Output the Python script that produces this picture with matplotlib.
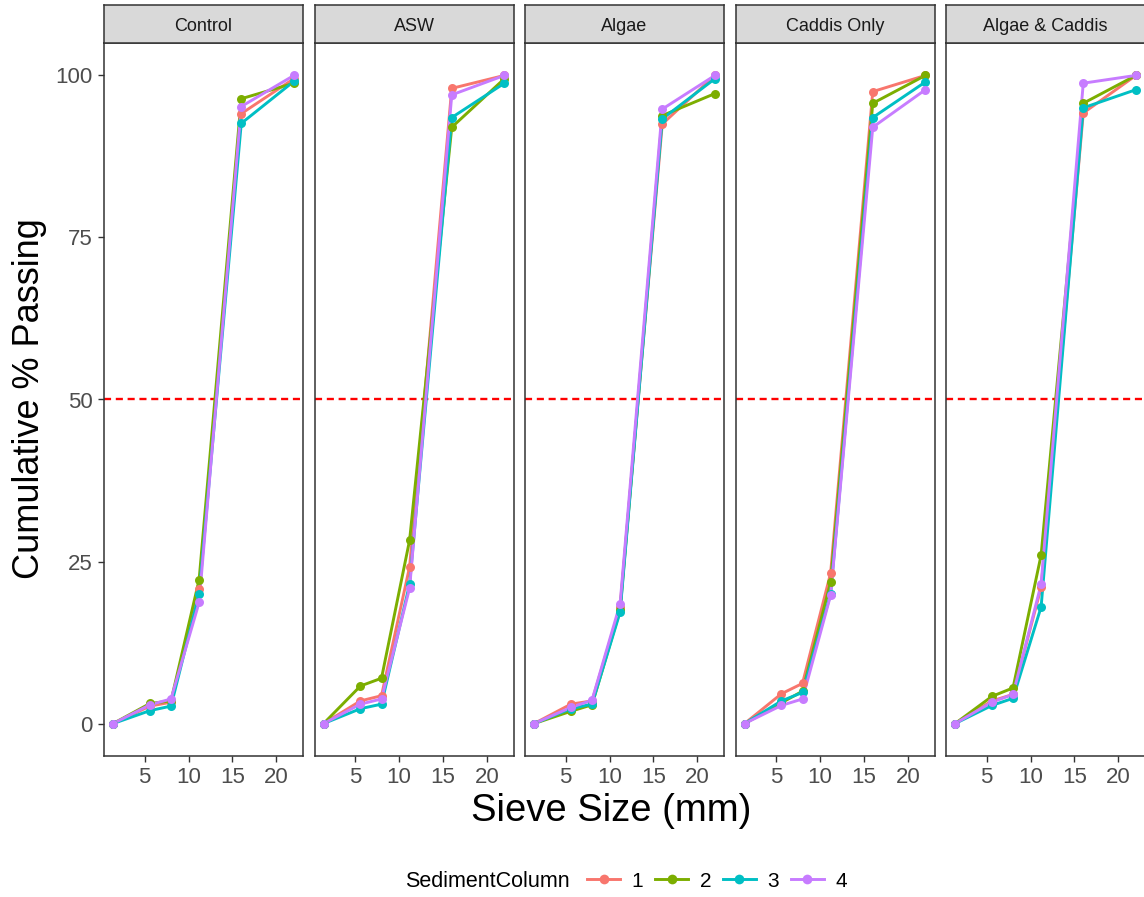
import matplotlib
matplotlib.use("Agg")
import matplotlib.pyplot as plt
from matplotlib.lines import Line2D

plt.rcParams['font.family'] = ['Liberation Sans', 'DejaVu Sans']

sieve = [1.4, 5.6, 8, 11.2, 16, 22]
treatments = ["Control", "ASW", "Algae", "Caddis Only", "Algae & Caddis"]
columns = ["1", "2", "3", "4"]
colors = ["#F8766D", "#7CAE00", "#00BFC4", "#C77CFF"]

# cumulative % passing, one row per sediment column (1..4)
control = [[0, 2.7, 3.3, 20.8, 94.1, 99.5],
           [0, 3.1, 3.5, 22.2, 96.4, 98.8],
           [0, 2.0, 2.7, 20.0, 92.6, 99.1],
           [0, 2.9, 3.8, 18.7, 95.2, 100]]
asw = [[0, 3.5, 4.3, 24.2, 98.0, 100],
       [0, 5.8, 7.0, 28.3, 92.0, 99.5],
       [0, 2.3, 3.0, 21.5, 93.5, 98.8],
       [0, 3.0, 3.8, 20.9, 97.0, 100]]
algae = [[0, 3.0, 3.5, 18.0, 92.5, 100],
         [0, 1.9, 2.9, 17.5, 93.8, 97.2],
         [0, 2.3, 3.0, 17.2, 93.3, 99.5],
         [0, 2.5, 3.6, 18.5, 94.8, 100]]
caddis = [[0, 4.6, 6.2, 23.2, 97.5, 100],
          [0, 3.2, 5.0, 21.8, 95.7, 100],
          [0, 3.5, 4.8, 20.0, 93.5, 99.0],
          [0, 2.8, 3.8, 19.8, 92.0, 97.8]]
algae_caddis = [[0, 3.5, 4.5, 21.0, 94.2, 100],
                [0, 4.2, 5.5, 26.0, 95.7, 100],
                [0, 2.8, 3.9, 18.0, 95.0, 97.8],
                [0, 3.3, 4.5, 21.5, 98.8, 100]]
panels = [control, asw, algae, caddis, algae_caddis]

W, H = 1144, 897
fig = plt.figure(figsize=(W / 100, H / 100), dpi=100)

dark = "#333333"
grey = "#4D4D4D"
xr = max(sieve) - min(sieve)
for i, (name, data) in enumerate(zip(treatments, panels)):
    left = 104 + i * 210.5
    ax = fig.add_axes([left / W, 1 - 756 / H, 199 / W, 713 / H])
    ax.axhline(50, color="red", ls=(0, (3, 2)), lw=1.7, zorder=1)
    for k in range(4):
        ax.plot(sieve, data[k], color=colors[k], lw=2.1, zorder=2)
    for k in range(4):
        ax.scatter(sieve, data[k], color=colors[k], s=42, zorder=3, linewidths=0)
    ax.set_xlim(min(sieve) - 0.05 * xr, max(sieve) + 0.05 * xr)
    ax.set_ylim(-5, 105)
    ax.set_xticks([5, 10, 15, 20])
    ax.set_yticks([0, 25, 50, 75, 100])
    ax.tick_params(colors=dark, labelcolor=grey, labelsize=16, length=4.5, width=1)
    if i > 0:
        ax.tick_params(axis="y", left=False, labelleft=False)
    for s in ax.spines.values():
        s.set_color(dark)
        s.set_linewidth(1.1)
    # strip
    sax = fig.add_axes([left / W, 1 - 43 / H, 199 / W, 38 / H])
    sax.set_facecolor("#D9D9D9")
    sax.set_xticks([])
    sax.set_yticks([])
    for s in sax.spines.values():
        s.set_color(dark)
        s.set_linewidth(1.1)
    sax.text(0.5, 0.44, name, ha="center", va="center", fontsize=13,
             color="#1A1A1A", transform=sax.transAxes)

fig.text(30 / W, 1 - 399 / H, "Cumulative % Passing", rotation=90,
         ha="center", va="center", fontsize=26)
fig.text(611 / W, 1 - 811 / H, "Sieve Size (mm)", ha="center", va="center",
         fontsize=27.5)

fig.text(405 / W, 1 - 881 / H, "SedimentColumn", ha="left", va="center",
         fontsize=15.5)
handles = [Line2D([], [], color=c, lw=2.1, marker="o", markersize=7,
                  markeredgewidth=0) for c in colors]
fig.legend(handles, columns, loc="center left", ncol=4,
           bbox_to_anchor=(587 / W, 1 - 881 / H), frameon=False,
           fontsize=15, handlelength=1.6, handletextpad=0.55,
           columnspacing=0.55, borderpad=0, borderaxespad=0)

fig.savefig("out.png", dpi=100)
